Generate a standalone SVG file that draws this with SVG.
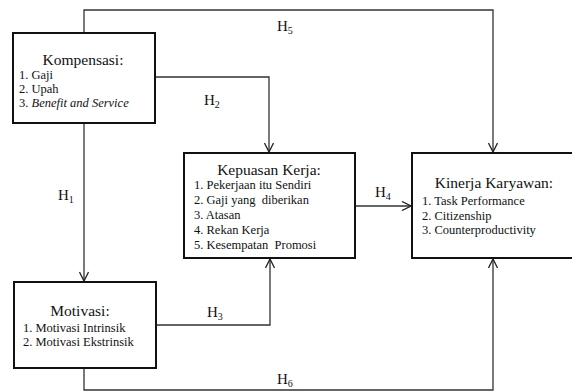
<svg xmlns="http://www.w3.org/2000/svg" width="572" height="391" viewBox="0 0 572 391">
<defs>
<marker id="arr" viewBox="0 0 10 10" refX="10" refY="5" markerWidth="10" markerHeight="10" markerUnits="userSpaceOnUse" orient="auto">
<path d="M1,0.5 L10,5 L1,9.5" fill="none" stroke="#222" stroke-width="1.3"/>
</marker>
</defs>
<style>
.box{fill:#fff;stroke:#111;stroke-width:2}
.ln{fill:none;stroke:#333;stroke-width:1.3}
text{fill:#111}
.t{font-size:15.5px;text-anchor:middle}
.i{font-size:12.5px}
.h{font-size:15px}
.s{font-size:10px}
</style>
<rect width="572" height="391" fill="#fff"/>
<g font-family="'Liberation Serif', 'DejaVu Serif', serif">
<g id="connectors">
<path class="ln" d="M84,33 V10 H493 V152" marker-end="url(#arr)"/>
<path class="ln" d="M155,77 H269 V152" marker-end="url(#arr)"/>
<path class="ln" d="M84,123 V281" marker-end="url(#arr)"/>
<path class="ln" d="M156,325 H270 V259" marker-end="url(#arr)"/>
<path class="ln" d="M355,206 H411" marker-end="url(#arr)"/>
<path class="ln" d="M84,368 V390 H493 V259" marker-end="url(#arr)"/>
<text class="h" x="277" y="31">H<tspan class="s" dy="3">5</tspan></text>
<text class="h" x="204" y="105">H<tspan class="s" dy="3">2</tspan></text>
<text class="h" x="58" y="200">H<tspan class="s" dy="3">1</tspan></text>
<text class="h" x="207" y="317">H<tspan class="s" dy="3">3</tspan></text>
<text class="h" x="375" y="197">H<tspan class="s" dy="3">4</tspan></text>
<text class="h" x="277" y="384">H<tspan class="s" dy="2.5">6</tspan></text>
</g>
<g id="kompensasi">
<rect class="box" x="13" y="33" width="142" height="90"/>
<text class="t" x="83" y="65">Kompensasi:</text>
<text class="i" x="19" y="79">1. Gaji</text>
<text class="i" x="19" y="93">2. Upah</text>
<text class="i" x="19" y="107">3. <tspan font-style="italic">Benefit and Service</tspan></text>
</g>
<g id="kepuasan">
<rect class="box" x="184" y="153" width="171" height="105"/>
<text class="t" x="269" y="175">Kepuasan Kerja:</text>
<text class="i" x="194" y="189">1. Pekerjaan itu Sendiri</text>
<text class="i" x="194" y="204" xml:space="preserve">2. Gaji yang  diberikan</text>
<text class="i" x="194" y="219">3. Atasan</text>
<text class="i" x="194" y="234">4. Rekan Kerja</text>
<text class="i" x="194" y="249" xml:space="preserve">5. Kesempatan  Promosi</text>
</g>
<g id="kinerja">
<rect class="box" x="412" y="153" width="170" height="105"/>
<text class="t" x="494" y="188">Kinerja Karyawan:</text>
<text class="i" x="422" y="205">1. Task Performance</text>
<text class="i" x="422" y="220">2. Citizenship</text>
<text class="i" x="422" y="234">3. Counterproductivity</text>
</g>
<g id="motivasi">
<rect class="box" x="14" y="282" width="142" height="86"/>
<text class="t" x="80" y="316">Motivasi:</text>
<text class="i" x="23" y="332">1. Motivasi Intrinsik</text>
<text class="i" x="23" y="346">2. Motivasi Ekstrinsik</text>
</g>
</g>
</svg>
